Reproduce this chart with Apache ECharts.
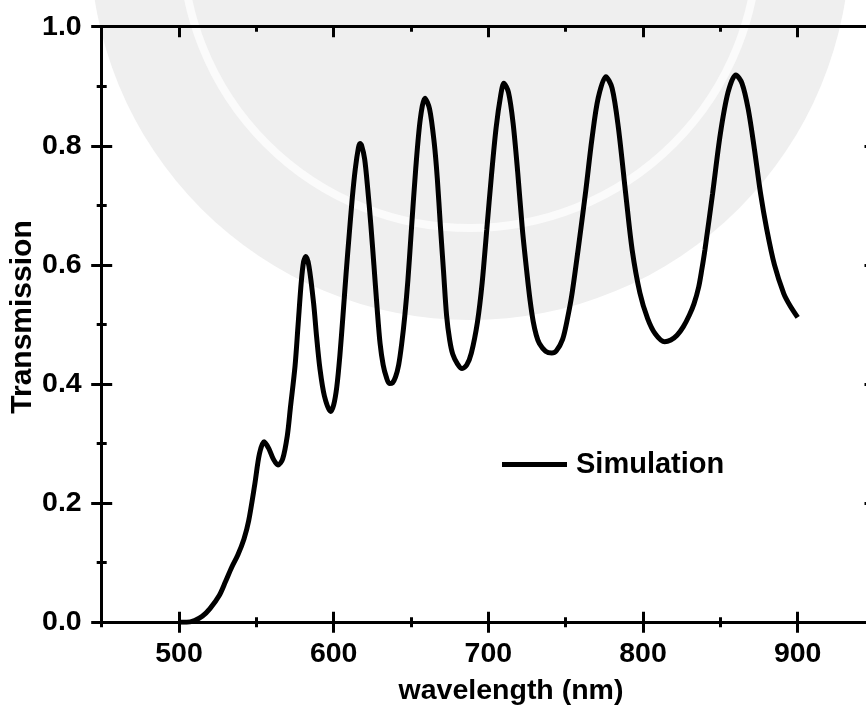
<!DOCTYPE html>
<html>
<head>
<meta charset="utf-8">
<script src="https://cdn.jsdelivr.net/npm/echarts@6/dist/echarts.min.js"></script>
<style>
html,body{margin:0;padding:0;background:#fff;}
#chart{width:866px;height:711px;}
</style>
</head>
<body>
<div id="chart"></div>
<script>
// ---- data ----
const wavelength = [500,505,510,515,520,526,530,534,538,542,545,549,552,555,558,561,564,567,570,572,575,577,579,580.5,582,584,587,589,591,594,598,600,602,604,606,608,610,612,614,616,617,618,620,622,624,626,628,630,632,634,636,638,640,642,644,646,648,650,653,656,659,662,665,667,669,671,673,675,677,680,683,686,689,693,696,699,702,705,708,710,713,716,719,722,725,727,729,731,733,737,741,744,748,751,754,758,763,767,771,776,780,784,789,793,798,803,808,814,818,822,826,830,833,836,838,840,845,850,855,860,864,868,872,876,880,885,891,895,900];
const transmission = [0.000,0.000,0.003,0.010,0.023,0.045,0.068,0.092,0.113,0.140,0.170,0.232,0.283,0.303,0.292,0.274,0.264,0.274,0.313,0.360,0.430,0.500,0.570,0.605,0.614,0.598,0.536,0.478,0.428,0.380,0.354,0.365,0.395,0.448,0.515,0.585,0.650,0.712,0.762,0.797,0.804,0.801,0.778,0.728,0.668,0.600,0.530,0.468,0.432,0.412,0.401,0.402,0.412,0.432,0.468,0.515,0.575,0.650,0.760,0.845,0.880,0.862,0.805,0.745,0.665,0.590,0.515,0.474,0.450,0.434,0.426,0.432,0.452,0.505,0.570,0.660,0.750,0.830,0.885,0.905,0.890,0.838,0.755,0.660,0.585,0.540,0.505,0.482,0.468,0.455,0.452,0.456,0.475,0.508,0.550,0.625,0.725,0.812,0.880,0.916,0.897,0.832,0.715,0.625,0.553,0.510,0.484,0.471,0.474,0.482,0.496,0.516,0.535,0.563,0.592,0.625,0.720,0.820,0.890,0.919,0.905,0.862,0.795,0.720,0.660,0.600,0.552,0.532,0.512];
const seriesName = 'Simulation';
const xMajorTicks = [500,600,700,800,900];
const xMinorTicks = [450,550,650,750,850,950];
const yMajorTicks = [0,0.2,0.4,0.6,0.8,1.0];
const yMinorTicks = [0.1,0.3,0.5,0.7,0.9];
const xTitle = 'wavelength (nm)';
const yTitle = 'Transmission';

// ---- chart ----
const FONT = "'Liberation Sans', Arial, Helvetica, sans-serif";
const points = wavelength.map((w, i) => [w, transmission[i]]);

function axis(kind, position, ticks, len, inside, opts) {
  opts = opts || {};
  const a = {
    type: 'value',
    position: position,
    min: kind === 'x' ? 450 : 0,
    max: kind === 'x' ? 950 : 1,
    axisLine: {show: !!opts.line, onZero: false, lineStyle: {color: '#000', width: 3}},
    axisTick: {show: true, inside: inside, length: len, customValues: ticks,
               lineStyle: {color: '#000', width: 3}},
    axisLabel: {show: false},
    splitLine: {show: false},
    minorTick: {show: false},
    silent: true
  };
  if (opts.labels) {
    a.axisLabel = {
      show: true,
      customValues: opts.labels,
      margin: opts.margin,
      fontFamily: FONT, fontWeight: 'bold', fontSize: 28.5, color: '#000',
      formatter: kind === 'y' ? (v => Number(v).toFixed(1)) : (v => String(v))
    };
  }
  return a;
}

const xAxes = [
  axis('x', 'bottom', xMajorTicks, 10.5, false, {line: true, labels: xMajorTicks, margin: 17}),
  axis('x', 'bottom', xMajorTicks, 10.5, true),
  axis('x', 'bottom', xMinorTicks, 5, false),
  axis('x', 'bottom', xMinorTicks, 5, true),
  axis('x', 'top', xMajorTicks, 10.5, true, {line: true}),
  axis('x', 'top', xMinorTicks, 5, true)
];
const yAxes = [
  axis('y', 'left', yMajorTicks, 10.5, false, {line: true, labels: yMajorTicks, margin: 20}),
  axis('y', 'left', yMajorTicks, 10.5, true),
  axis('y', 'left', yMinorTicks, 5, false),
  axis('y', 'left', yMinorTicks, 5, true),
  axis('y', 'right', yMajorTicks, 10.5, true, {line: true}),
  axis('y', 'right', yMinorTicks, 5, true)
];

const chart = echarts.init(document.getElementById('chart'), null, {renderer: 'canvas'});
chart.setOption({
  animation: false,
  backgroundColor: '#fff',
  grid: {left: 101.7, top: 26.7, width: 773.3, height: 595.6, containLabel: false, outerBoundsMode: 'none'},
  xAxis: xAxes,
  yAxis: yAxes,
  legend: {
    data: [seriesName],
    left: 502, top: 450, padding: 0,
    itemWidth: 65, itemHeight: 5, icon: 'rect',
    selectedMode: false,
    textStyle: {fontFamily: FONT, fontWeight: 'bold', fontSize: 29, color: '#000', padding: [0, 0, 0, 4]}
  },
  graphic: [
    {type: 'circle', z: -100, silent: true, shape: {cx: 470, cy: -60, r: 380}, style: {fill: '#efefef'}},
    {type: 'circle', z: -99, silent: true, shape: {cx: 470, cy: -60, r: 288}, style: {fill: 'none', stroke: '#fbfbfb', lineWidth: 8}},
    {type: 'text', z: 10, x: 511, y: 691, style: {text: xTitle, fontFamily: FONT, fontWeight: 'bold', fontSize: 28.5, fill: '#000', align: 'center', verticalAlign: 'middle'}},
    {type: 'text', z: 10, x: 22.5, y: 317, rotation: Math.PI / 2, style: {text: yTitle, fontFamily: FONT, fontWeight: 'bold', fontSize: 30, fill: '#000', align: 'center', verticalAlign: 'middle'}}
  ],
  series: [{
    name: seriesName,
    type: 'line',
    xAxisIndex: 0, yAxisIndex: 0,
    data: points,
    smooth: 0.3,
    showSymbol: false,
    symbol: 'none',
    lineStyle: {color: '#000', width: 5},
    itemStyle: {color: '#000'},
    z: 5
  }]
});
</script>
</body>
</html>
